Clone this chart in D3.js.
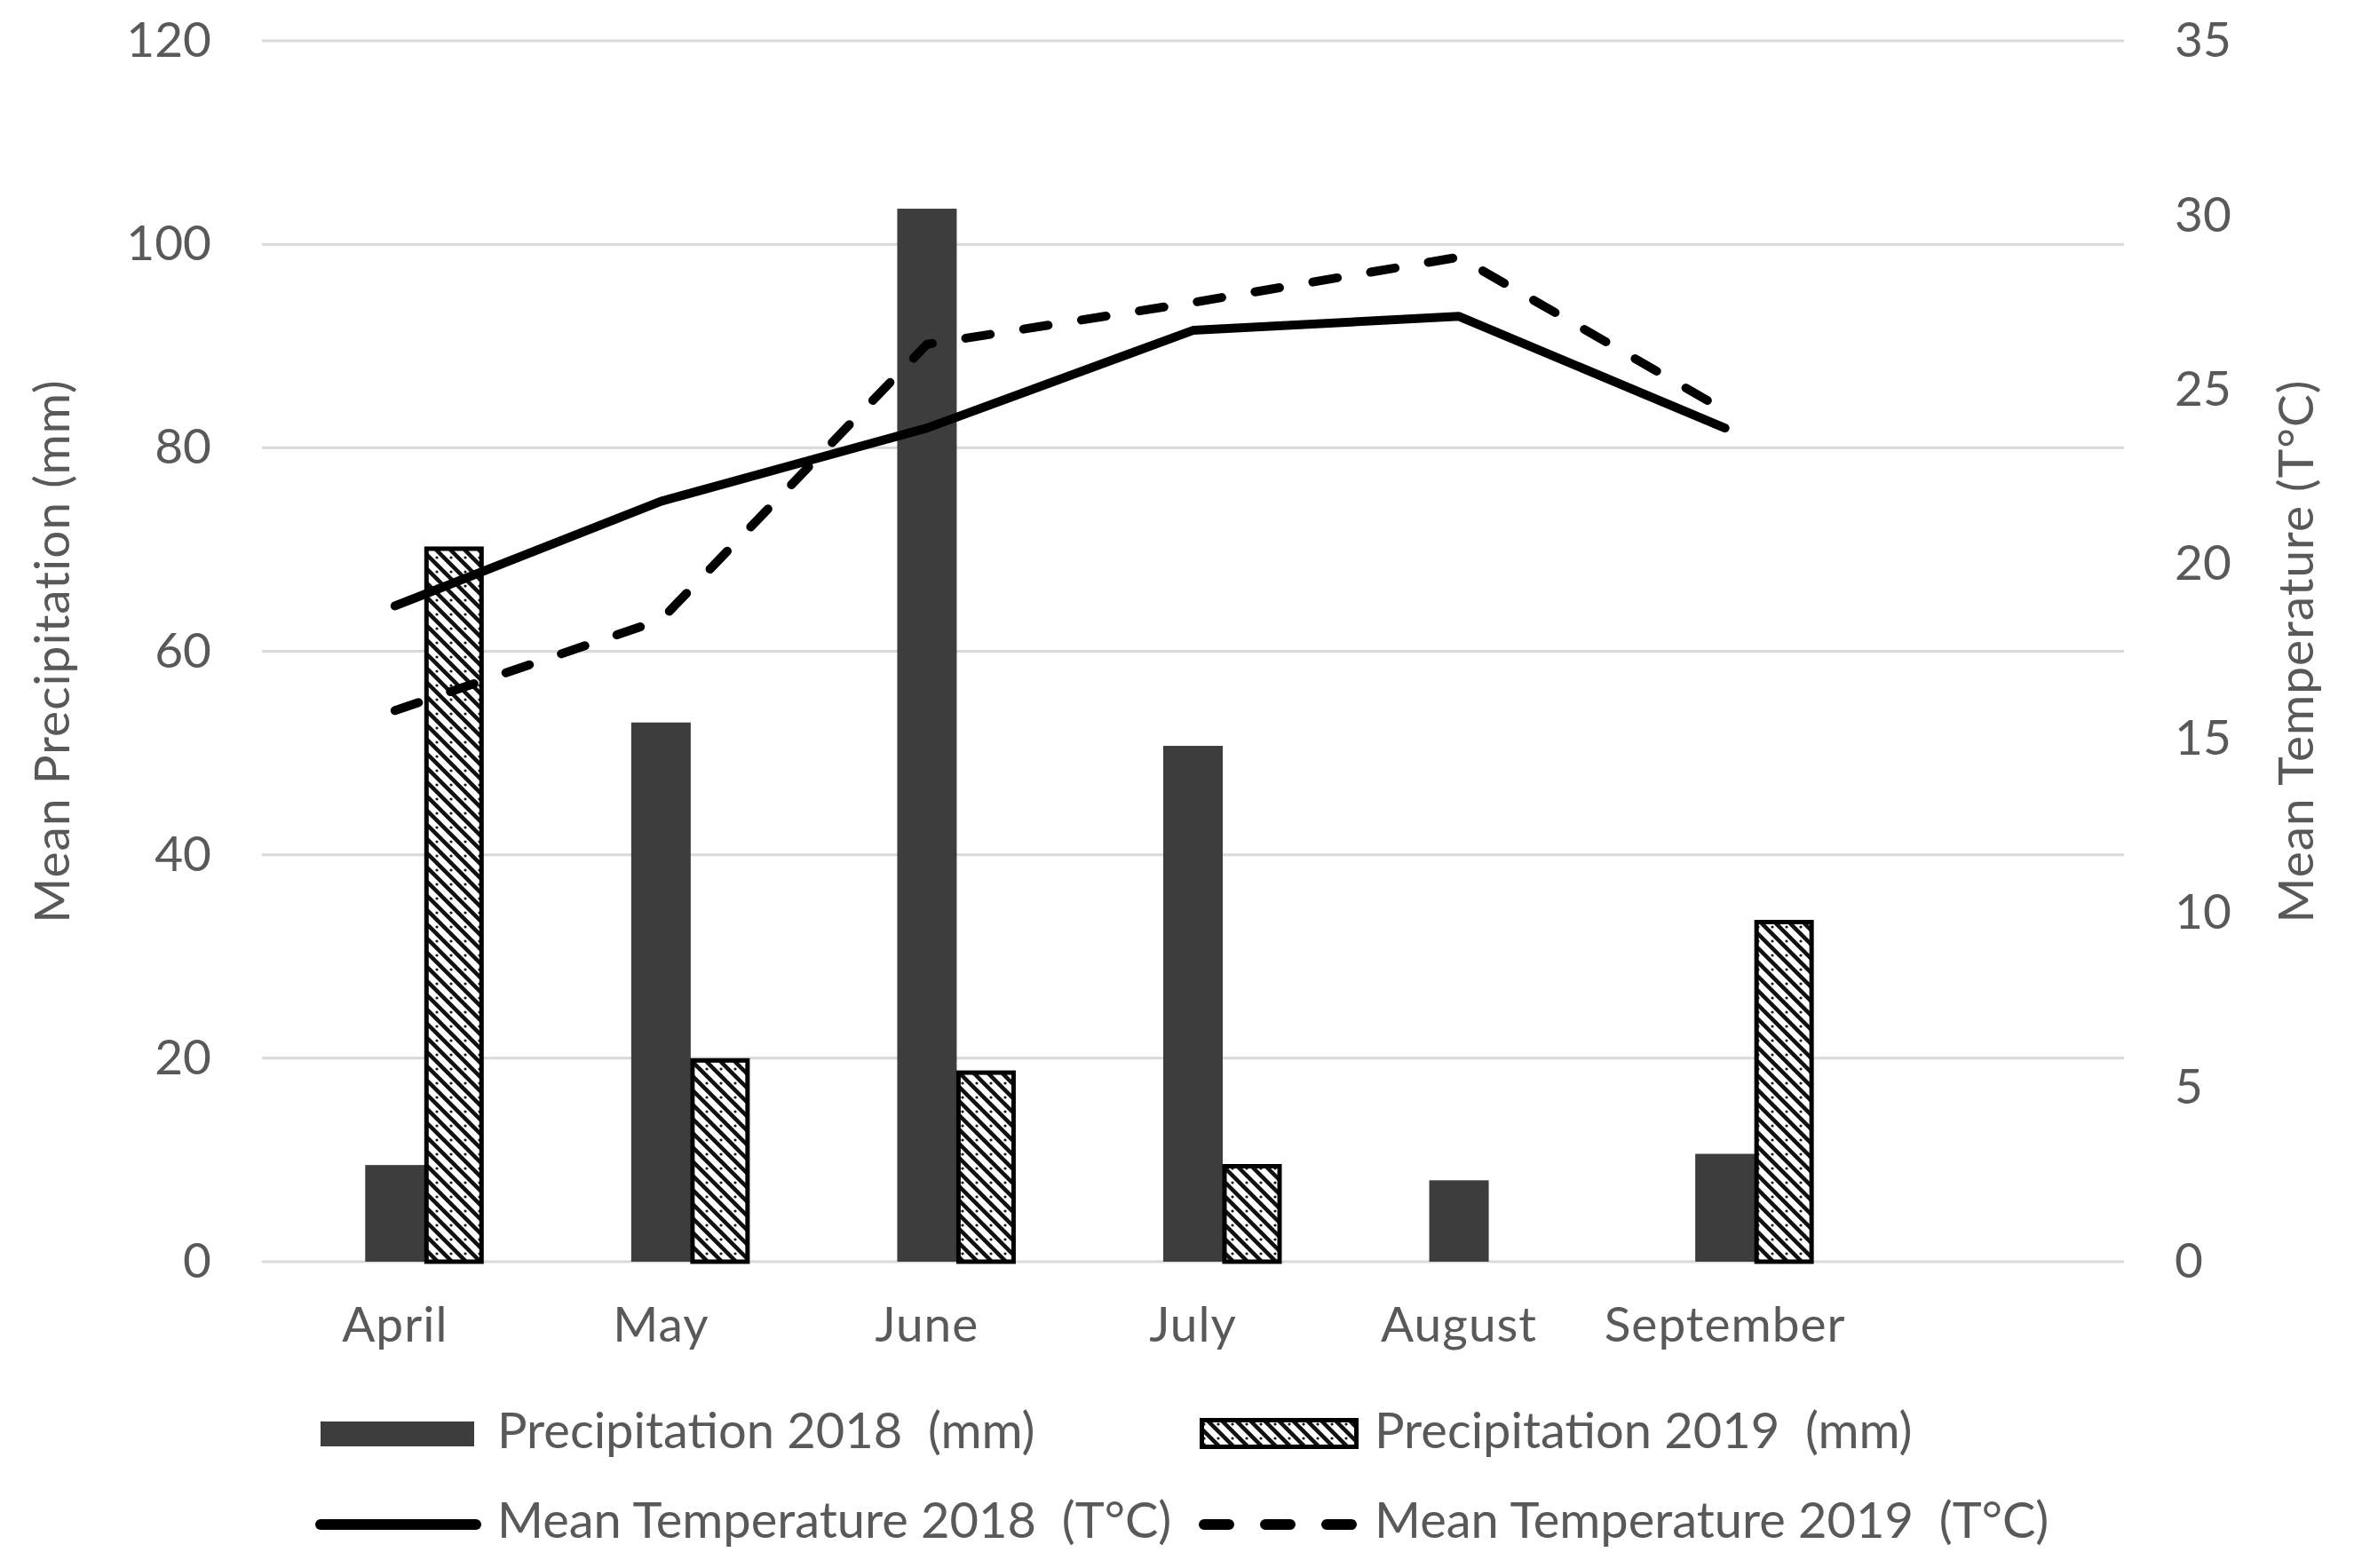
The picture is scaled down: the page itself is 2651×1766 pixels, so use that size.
<!DOCTYPE html>
<html>
<head>
<meta charset="utf-8">
<script src="https://cdn.jsdelivr.net/npm/d3@7"></script>
<style>
  body { margin: 0; background: #fff; }
  svg { display: block; }
  text { font-family: Lato, "Open Sans", sans-serif; fill: #595959; }
</style>
</head>
<body>
<svg id="chart" width="2651" height="1766"></svg>
<script>
// months on the category axis (the last slot is empty in the original chart)
var months = ["April", "May", "June", "July", "August", "September", " "];
var precip2018 = [9.5, 53, 103.5, 50.7, 8, 10.6];
var precip2019 = [70.3, 20, 18.8, 9.6, 0, 33.6];
var temp2018 = [18.8, 21.8, 23.9, 26.7, 27.1, 23.9];
var temp2019 = [15.8, 18.4, 26.3, 27.5, 28.8, 24.4];
var precipTicks = [0, 20, 40, 60, 80, 100, 120];
var tempTicks = [0, 5, 10, 15, 20, 25, 30, 35];
var legendNames = ["Precipitation 2018  (mm)", "Precipitation 2019  (mm)",
                   "Mean Temperature 2018  (T\u00B0C)", "Mean Temperature 2019  (T\u00B0C)"];

var W = 2651, H = 1766;
var margin = {top: 46, right: 259, bottom: 345, left: 295};
var svg = d3.select("#chart");

var x = d3.scaleBand().domain(months).range([margin.left, W - margin.right]).padding(0);
var yP = d3.scaleLinear().domain([0, 120]).range([H - margin.bottom, margin.top]);
var yT = d3.scaleLinear().domain([0, 35]).range([H - margin.bottom, margin.top]);
var barW = 67;
var fs = 55;

// hatch pattern for 2019 bars
var defs = svg.append("defs");
var pat = defs.append("pattern")
    .attr("id", "hatch")
    .attr("patternUnits", "userSpaceOnUse")
    .attr("width", 16).attr("height", 16);
pat.append("rect").attr("width", 16).attr("height", 16).attr("fill", "#fff");
pat.append("path")
    .attr("d", "M-4,-4 L20,20 M-4,12 L4,20 M12,-4 L20,4")
    .attr("stroke", "#111").attr("stroke-width", 4.5);
pat.append("circle").attr("cx", 12).attr("cy", 4).attr("r", 1.6).attr("fill", "#111");

// gridlines
svg.append("g")
  .selectAll("line")
  .data(precipTicks)
  .join("line")
    .attr("x1", margin.left).attr("x2", W - margin.right)
    .attr("y1", d => yP(d)).attr("y2", d => yP(d))
    .attr("stroke", "#d9d9d9").attr("stroke-width", 3);

// left axis
var gl = svg.append("g")
    .attr("transform", "translate(" + margin.left + ",0)")
    .call(d3.axisLeft(yP).tickValues(precipTicks).tickSize(0).tickPadding(57));
gl.select(".domain").remove();
gl.selectAll("text").style("font-size", fs + "px").attr("fill", "#595959");

// right axis
var gr = svg.append("g")
    .attr("transform", "translate(" + (W - margin.right) + ",0)")
    .call(d3.axisRight(yT).tickValues(tempTicks).tickSize(0).tickPadding(57));
gr.select(".domain").remove();
gr.selectAll("text").style("font-size", fs + "px").attr("fill", "#595959");

// bottom axis
var gb = svg.append("g")
    .attr("transform", "translate(0," + (H - margin.bottom) + ")")
    .call(d3.axisBottom(x).tickSize(0).tickPadding(51));
gb.select(".domain").remove();
gb.selectAll("text").style("font-size", fs + "px").style("letter-spacing", "1px").attr("fill", "#595959");

// bars 2018 (centred on the category) and 2019 (right beside it)
var cats = months.slice(0, 6);
svg.append("g")
  .selectAll("rect")
  .data(precip2018)
  .join("rect")
    .attr("x", (d, i) => x(cats[i]) + x.bandwidth() / 2 - barW / 2)
    .attr("y", d => yP(d))
    .attr("width", barW)
    .attr("height", d => yP(0) - yP(d))
    .attr("fill", "#3d3d3d");

svg.append("g")
  .selectAll("rect")
  .data(precip2019)
  .join("rect")
    .attr("x", (d, i) => x(cats[i]) + x.bandwidth() / 2 + barW / 2 + 2)
    .attr("y", d => yP(d) + 2.5)
    .attr("width", barW - 5)
    .attr("height", d => Math.max(0, yP(0) - yP(d) - 2.5))
    .attr("fill", "url(#hatch)")
    .attr("stroke", d => d > 0 ? "#000" : "none")
    .attr("stroke-width", 5);

// temperature lines
var line = d3.line()
    .x((d, i) => x(cats[i]) + x.bandwidth() / 2)
    .y(d => yT(d));

svg.append("path")
    .datum(temp2018)
    .attr("d", line)
    .attr("fill", "none").attr("stroke", "#000")
    .attr("stroke-width", 10).attr("stroke-linecap", "round").attr("stroke-linejoin", "round");

svg.append("path")
    .datum(temp2019)
    .attr("d", line)
    .attr("fill", "none").attr("stroke", "#000")
    .attr("stroke-width", 10).attr("stroke-linecap", "round").attr("stroke-linejoin", "round")
    .attr("stroke-dasharray", "28,38");

// axis titles
svg.append("text")
    .attr("transform", "translate(64," + ((margin.top + H - margin.bottom) / 2) + ") rotate(-90)")
    .attr("text-anchor", "middle").attr("dominant-baseline", "middle")
    .style("font-size", fs + "px").style("letter-spacing", "1px")
    .text("Mean Precipitation (mm)");

svg.append("text")
    .attr("transform", "translate(2591," + ((margin.top + H - margin.bottom) / 2) + ") rotate(-90)")
    .attr("text-anchor", "middle").attr("dominant-baseline", "middle")
    .style("font-size", fs + "px").style("letter-spacing", "1px")
    .text("Mean Temperature (T\u00B0C)");

// legend
var lx = [361, 1351], ly = [1615, 1717];
var lg = svg.append("g");
lg.append("rect").attr("x", lx[0]).attr("y", 1601).attr("width", 173).attr("height", 28).attr("fill", "#3d3d3d");
lg.append("rect").attr("x", lx[1] + 2.5).attr("y", 1599.5).attr("width", 174).attr("height", 30)
    .attr("fill", "url(#hatch)").attr("stroke", "#000").attr("stroke-width", 5);
lg.append("line").attr("x1", 361).attr("x2", 536).attr("y1", ly[1]).attr("y2", ly[1])
    .attr("stroke", "#000").attr("stroke-width", 12).attr("stroke-linecap", "round");
lg.append("line").attr("x1", 1356).attr("x2", 1530).attr("y1", ly[1]).attr("y2", ly[1])
    .attr("stroke", "#000").attr("stroke-width", 12).attr("stroke-linecap", "round")
    .attr("stroke-dasharray", "28,41");

lg.selectAll("text")
  .data(legendNames)
  .join("text")
    .attr("x", (d, i) => i % 2 === 0 ? 560 : 1548)
    .attr("y", (d, i) => i < 2 ? 1631 : 1732)
    .style("font-size", "56px")
    .style("white-space", "pre")
    .attr("xml:space", "preserve")
    .text(d => d);
</script>
</body>
</html>
